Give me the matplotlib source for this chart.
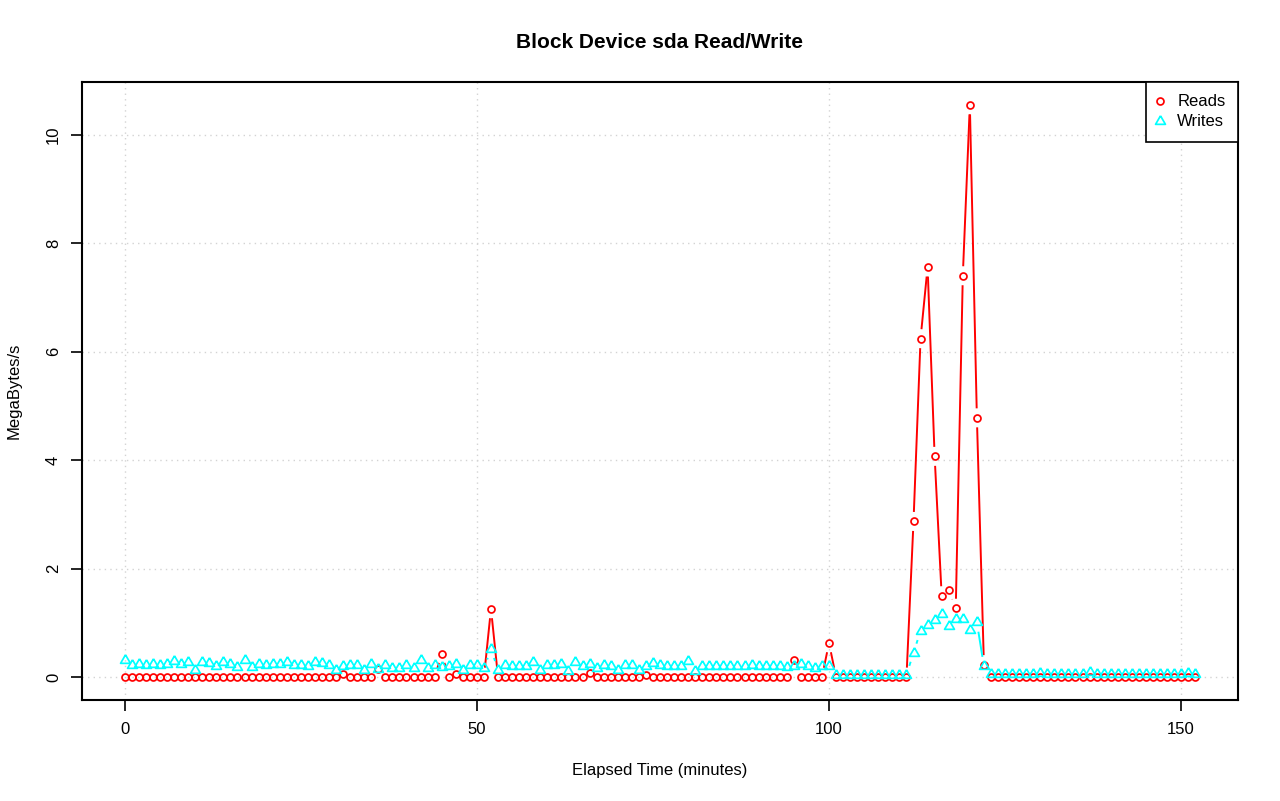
import numpy as np
import matplotlib
matplotlib.use("Agg")
import matplotlib.pyplot as plt
from matplotlib.collections import LineCollection
from matplotlib.lines import Line2D

plt.rcParams["font.family"] = ["Liberation Sans", "DejaVu Sans"]

# MB/s per minute
reads = [
    0, 0, 0, 0, 0, 0, 0, 0, 0, 0,
    0, 0, 0, 0, 0, 0, 0, 0, 0, 0,
    0, 0, 0, 0, 0, 0, 0, 0, 0, 0,
    0, 0.05, 0, 0, 0, 0, 0.15, 0, 0, 0,
    0, 0, 0, 0, 0, 0.43, 0, 0.05, 0, 0,
    0, 0, 1.26, 0, 0, 0, 0, 0, 0, 0,
    0, 0, 0, 0, 0, 0, 0.08, 0, 0, 0,
    0, 0, 0, 0, 0.04, 0, 0, 0, 0, 0,
    0, 0, 0, 0, 0, 0, 0, 0, 0, 0,
    0, 0, 0, 0, 0, 0.31, 0, 0, 0, 0,
    0.63, 0, 0, 0, 0, 0, 0, 0, 0, 0,
    0, 0, 2.87, 6.24, 7.56, 4.07, 1.50, 1.60, 1.27, 7.40,
    10.55, 4.78, 0.23, 0, 0, 0, 0, 0, 0, 0,
    0, 0, 0, 0, 0, 0, 0, 0, 0, 0,
    0, 0, 0, 0, 0, 0, 0, 0, 0, 0,
    0, 0, 0,
]

writes = [
    0.32, 0.23, 0.25, 0.22, 0.24, 0.23, 0.25, 0.29, 0.25, 0.27,
    0.14, 0.28, 0.26, 0.20, 0.27, 0.25, 0.18, 0.32, 0.18, 0.25,
    0.23, 0.24, 0.25, 0.27, 0.23, 0.22, 0.20, 0.27, 0.26, 0.22,
    0.14, 0.20, 0.23, 0.22, 0.13, 0.24, 0.15, 0.23, 0.16, 0.17,
    0.23, 0.16, 0.32, 0.16, 0.22, 0.19, 0.20, 0.25, 0.14, 0.23,
    0.22, 0.16, 0.52, 0.13, 0.22, 0.21, 0.21, 0.20, 0.27, 0.13,
    0.23, 0.23, 0.24, 0.12, 0.28, 0.21, 0.24, 0.16, 0.23, 0.20,
    0.14, 0.22, 0.23, 0.13, 0.20, 0.26, 0.22, 0.20, 0.21, 0.20,
    0.30, 0.12, 0.21, 0.20, 0.21, 0.21, 0.20, 0.20, 0.21, 0.22,
    0.20, 0.20, 0.21, 0.20, 0.18, 0.20, 0.25, 0.20, 0.16, 0.20,
    0.20, 0.04, 0.04, 0.04, 0.04, 0.04, 0.04, 0.04, 0.04, 0.04,
    0.04, 0.04, 0.45, 0.85, 0.96, 1.05, 1.17, 0.94, 1.07, 1.08,
    0.87, 1.01, 0.20, 0.05, 0.05, 0.05, 0.05, 0.05, 0.05, 0.05,
    0.08, 0.05, 0.05, 0.05, 0.05, 0.05, 0.05, 0.09, 0.05, 0.05,
    0.05, 0.05, 0.05, 0.05, 0.05, 0.05, 0.05, 0.05, 0.05, 0.05,
    0.05, 0.07, 0.05,
]

minutes = list(range(len(reads)))

x_ticks = [0, 50, 100, 150]
y_ticks = [0, 2, 4, 6, 8, 10]

# R's pch=2 is an equilateral triangle, not matplotlib's tall "^"
TRIANGLE = [(0, 1.155), (-1, -0.577), (1, -0.577), (0, 1.155)]


def gapped_segments(ax, x, y, gap):
    # R's type="b": segments stop short of each point
    pts = ax.transData.transform(np.column_stack([x, y]))
    inv = ax.transData.inverted()
    segs = []
    for p0, p1 in zip(pts[:-1], pts[1:]):
        d = p1 - p0
        length = np.hypot(d[0], d[1])
        if length > 2 * gap:
            u = d / length
            segs.append(inv.transform([p0 + u * gap, p1 - u * gap]))
    return segs


def main():
    fig = plt.figure(figsize=(12.8, 8.01), dpi=100)
    ax = fig.add_axes([82 / 1280, 101 / 801, 1156 / 1280, 618 / 801])

    xr = max(minutes) - min(minutes)
    ax.set_xlim(min(minutes) - 0.04 * xr, max(minutes) + 0.04 * xr)
    ymax = max(max(reads), max(writes))
    ax.set_ylim(-0.04 * ymax, ymax * 1.04)

    for v in x_ticks:
        ax.axvline(v, color="#d3d3d3", lw=1.0, dashes=(1, 3), zorder=0)
    for v in y_ticks:
        ax.axhline(v, color="#d3d3d3", lw=1.0, dashes=(1, 3), zorder=0)

    for series, col in [(reads, "#ff0000"), (writes, "#00ffff")]:
        lc = LineCollection(gapped_segments(ax, minutes, series, 9.5),
                            colors=col, linewidths=1.4, zorder=2)
        ax.add_collection(lc)

    circle_kw = dict(linestyle="none", marker="o", ms=5.0, mfc="none",
                     mec="#ff0000", mew=1.25)
    tri_kw = dict(linestyle="none", marker=TRIANGLE, ms=8.2, mfc="none",
                  mec="#00ffff", mew=1.25)
    ax.plot(minutes, reads, zorder=3, **circle_kw)
    ax.plot(minutes, writes, zorder=4, **tri_kw)

    ax.set_xticks(x_ticks)
    ax.set_yticks(y_ticks)
    ax.set_yticklabels([str(v) for v in y_ticks], rotation=90, va="center")
    ax.tick_params(axis="both", direction="out", length=7.6, width=1.2,
                   labelsize=12, colors="black")
    ax.tick_params(axis="x", pad=8.5)
    ax.tick_params(axis="y", pad=7.5)
    for sp in ax.spines.values():
        sp.set_linewidth(1.5)

    fig.text(660 / 1280, 1 - 42 / 801, "Block Device sda Read/Write",
             ha="center", va="center", fontsize=15, fontweight="bold")
    fig.text(660 / 1280, 1 - 770 / 801, "Elapsed Time (minutes)",
             ha="center", va="center", fontsize=12)
    fig.text(14 / 1280, 1 - 391 / 801, "MegaBytes/s",
             ha="center", va="center", rotation=90, fontsize=12)

    handles = [Line2D([], [], **circle_kw), Line2D([], [], **tri_kw)]
    leg = ax.legend(handles, ["Reads", "Writes"], loc="upper right",
                    borderaxespad=0, fancybox=False, framealpha=1,
                    edgecolor="black", fontsize=12, borderpad=0.75,
                    handlelength=0.1, handletextpad=1.0, labelspacing=0.3)
    leg.get_frame().set_linewidth(1.2)

    fig.savefig("out.png", dpi=100)


if __name__ == "__main__":

    main()
